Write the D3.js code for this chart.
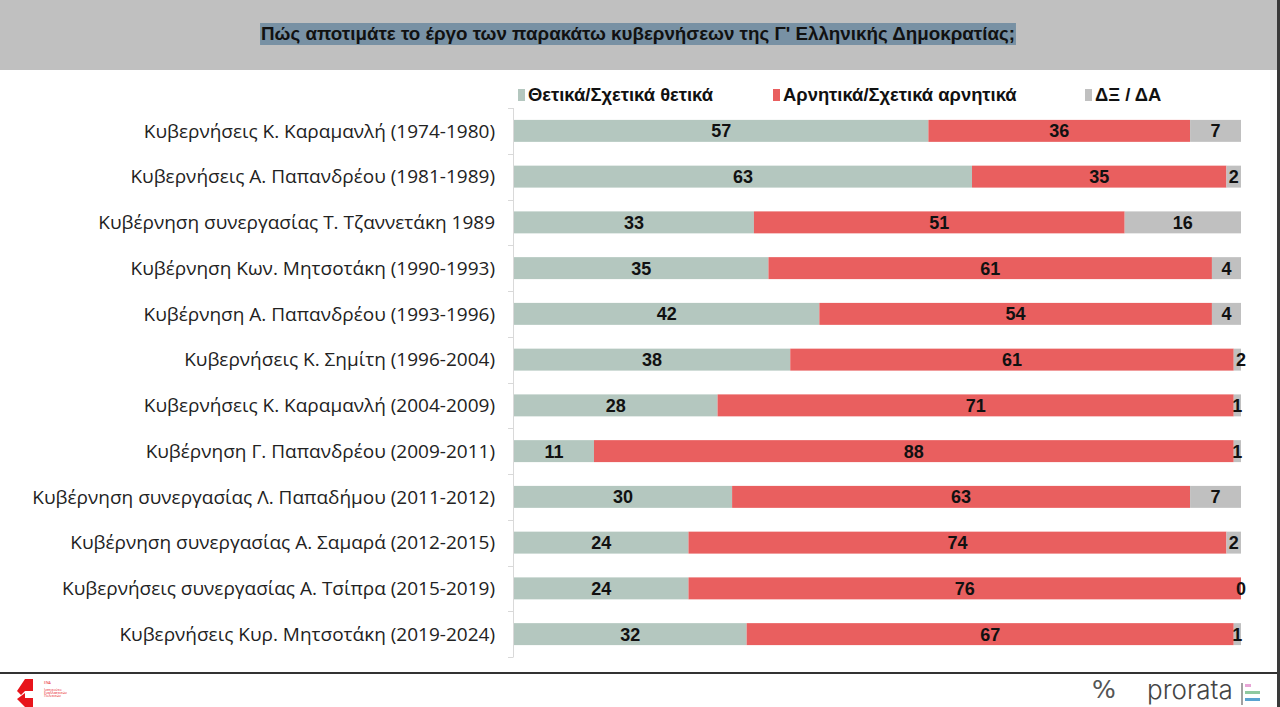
<!DOCTYPE html>
<html>
<head>
<meta charset="utf-8">
<script src="https://cdn.jsdelivr.net/npm/d3@7"></script>
<style>
  body { margin: 0; background: #fff; }
  svg { display: block; }
</style>
</head>
<body>
<div id="canvas"></div>
<script>
"use strict"

/* Data */
let governments = [
    "Κυβερνήσεις Κ. Καραμανλή (1974-1980)",
    "Κυβερνήσεις Α. Παπανδρέου (1981-1989)",
    "Κυβέρνηση συνεργασίας Τ. Τζαννετάκη 1989",
    "Κυβέρνηση Κων. Μητσοτάκη (1990-1993)",
    "Κυβέρνηση Α. Παπανδρέου (1993-1996)",
    "Κυβερνήσεις Κ. Σημίτη (1996-2004)",
    "Κυβερνήσεις Κ. Καραμανλή (2004-2009)",
    "Κυβέρνηση Γ. Παπανδρέου (2009-2011)",
    "Κυβέρνηση συνεργασίας Λ. Παπαδήμου (2011-2012)",
    "Κυβέρνηση συνεργασίας Α. Σαμαρά (2012-2015)",
    "Κυβερνήσεις συνεργασίας Α. Τσίπρα (2015-2019)",
    "Κυβερνήσεις Κυρ. Μητσοτάκη (2019-2024)"
];
let positive = [57, 63, 33, 35, 42, 38, 28, 11, 30, 24, 24, 32];
let negative = [36, 35, 51, 61, 54, 61, 71, 88, 63, 74, 76, 67];
let dontKnow = [7, 2, 16, 4, 4, 2, 1, 1, 7, 2, 0, 1];
let seriesNames = ["Θετικά/Σχετικά θετικά", "Αρνητικά/Σχετικά αρνητικά", "ΔΞ / ΔΑ"];
let title = "Πώς αποτιμάτε το έργο των παρακάτω κυβερνήσεων της Γ' Ελληνικής Δημοκρατίας;";

/* Drawing config */
let svgWidth = 1280;
let svgHeight = 707;
let colors = ["#b4c7bf", "#e95f5f", "#c0c0c0"];
let labelFont = "'Open Sans', sans-serif";
let boldFont = "'Liberation Sans', Arial, sans-serif";

let svg = d3.select("#canvas")
    .append("svg")
    .attr("width", svgWidth)
    .attr("height", svgHeight);

/* Title band */
svg.append("rect")
    .attr("width", svgWidth)
    .attr("height", 70)
    .attr("fill", "#c0c0c0");

let titleText = svg.append("text")
    .attr("x", 638)
    .attr("y", 40)
    .attr("text-anchor", "middle")
    .attr("font-family", boldFont)
    .attr("font-weight", "bold")
    .attr("font-size", 18.8)
    .attr("fill", "#111")
    .text(title);
let tb = titleText.node().getBBox();
svg.insert("rect", "text")
    .attr("x", tb.x - 1)
    .attr("y", 23)
    .attr("width", tb.width + 2)
    .attr("height", 22)
    .attr("fill", "#7891a4");

/* Build stacked table */
let table = governments.map(function (g, i) {
    return { name: g, s0: positive[i], s1: negative[i], s2: dontKnow[i] };
});
let stack = d3.stack().keys(["s0", "s1", "s2"]);
let stacked = stack(table);

let xScale = d3.scaleLinear()
    .domain([0, 100])
    .range([514, 1241]);

let yScale = d3.scaleBand()
    .domain(governments)
    .range([108, 657])
    .paddingInner(0.52)
    .paddingOuter(0.26);

/* Clip at 100 */
svg.append("clipPath")
    .attr("id", "plotClip")
    .append("rect")
    .attr("x", xScale(0))
    .attr("y", 100)
    .attr("width", xScale(100) - xScale(0))
    .attr("height", 570);

/* Axis line and ticks between categories */
let step = yScale.step();
let axisG = svg.append("g");
axisG.append("line")
    .attr("x1", 513.5).attr("x2", 513.5)
    .attr("y1", 108).attr("y2", 657)
    .attr("stroke", "#d9d9d9");
d3.range(governments.length + 1).forEach(function (i) {
    let y = Math.round(108 + i * step) + 0.5;
    axisG.append("line")
        .attr("x1", 508).attr("x2", 513.5)
        .attr("y1", y).attr("y2", y)
        .attr("stroke", "#d9d9d9");
});

/* Category labels */
svg.append("g")
    .selectAll("text")
    .data(governments)
    .join("text")
    .attr("x", 495)
    .attr("y", d => yScale(d) + yScale.bandwidth() / 2)
    .attr("dy", "0.35em")
    .attr("text-anchor", "end")
    .attr("font-family", labelFont)
    .attr("font-size", 19)
    .attr("fill", "#222")
    .text(d => d);

/* Bars */
let layers = svg.append("g")
    .attr("clip-path", "url(#plotClip)")
    .selectAll("g")
    .data(stacked)
    .join("g")
    .attr("fill", (d, i) => colors[i]);

layers.selectAll("rect")
    .data(d => d)
    .join("rect")
    .attr("x", d => xScale(d[0]))
    .attr("y", d => yScale(d.data.name))
    .attr("width", d => xScale(d[1]) - xScale(d[0]))
    .attr("height", yScale.bandwidth());

/* Value labels */
let valueG = svg.append("g");
stacked.forEach(function (layer) {
    valueG.selectAll(null)
        .data(layer)
        .join("text")
        .attr("x", d => xScale((d[0] + d[1]) / 2))
        .attr("y", d => yScale(d.data.name) + yScale.bandwidth() / 2)
        .attr("dy", "0.36em")
        .attr("text-anchor", "middle")
        .attr("font-family", boldFont)
        .attr("font-weight", "bold")
        .attr("font-size", 18)
        .attr("fill", "#111")
        .text(d => d.data[layer.key]);
});

/* Legend */
let legendX = [518, 773, 1085];
let legend = svg.append("g")
    .selectAll("g")
    .data(seriesNames)
    .join("g")
    .attr("transform", (d, i) => "translate(" + legendX[i] + ",0)");
legend.append("rect")
    .attr("x", 0).attr("y", 89)
    .attr("width", 7).attr("height", 12)
    .attr("fill", (d, i) => colors[i]);
legend.append("text")
    .attr("x", 10)
    .attr("y", 101)
    .attr("font-family", boldFont)
    .attr("font-weight", "bold")
    .attr("font-size", 18.4)
    .attr("fill", "#111")
    .text(d => d);

/* Footer line and right border */
svg.append("line")
    .attr("x1", 0).attr("x2", 1277)
    .attr("y1", 673).attr("y2", 673)
    .attr("stroke", "#333")
    .attr("stroke-width", 2);
svg.append("rect")
    .attr("x", 1277).attr("y", 0)
    .attr("width", 3).attr("height", svgHeight)
    .attr("fill", "#3a3a3a");

/* Left logo (approximate) */
let logo = svg.append("g").attr("transform", "translate(17,679)");
logo.append("path")
    .attr("d", "M8,0 L16,0 L16,12 L8,12 L4,16 L0,12 Z")
    .attr("fill", "#e8141b");
logo.append("path")
    .attr("d", "M0,20 L8,14 L8,19 L16,19 L16,28 L8,28 Z")
    .attr("fill", "#e8141b");
[[0, "ΕΝΑ"], [7, "Ινστιτούτο"], [10, "Εναλλακτικών"], [13, "Πολιτικών"]].forEach(function (t) {
    logo.append("text")
        .attr("x", 27).attr("y", 5 + t[0])
        .attr("font-family", labelFont)
        .attr("font-size", 3.5)
        .attr("fill", "#e8141b")
        .text(t[1]);
});

/* Right logo (approximate) */
svg.append("text")
    .attr("x", 1092).attr("y", 698)
    .attr("font-family", "'DejaVu Sans', sans-serif")
    .attr("font-size", 25)
    .attr("fill", "#555")
    .text("%");
svg.append("text")
    .attr("x", 1147).attr("y", 699)
    .attr("font-family", "'Inter', sans-serif")
    .attr("font-weight", 300)
    .attr("font-size", 26)
    .attr("fill", "#444")
    .text("prorata");
svg.append("line")
    .attr("x1", 1242).attr("x2", 1242)
    .attr("y1", 683).attr("y2", 705)
    .attr("stroke", "#444");
[["#e7a5d6", 686], ["#8fc9a0", 693], ["#5aa3d0", 700]].forEach(function (c, i) {
    svg.append("rect")
        .attr("x", 1245).attr("y", c[1] - 2)
        .attr("width", i === 0 ? 6 : 15).attr("height", 3)
        .attr("fill", c[0]);
});
</script>
</body>
</html>
